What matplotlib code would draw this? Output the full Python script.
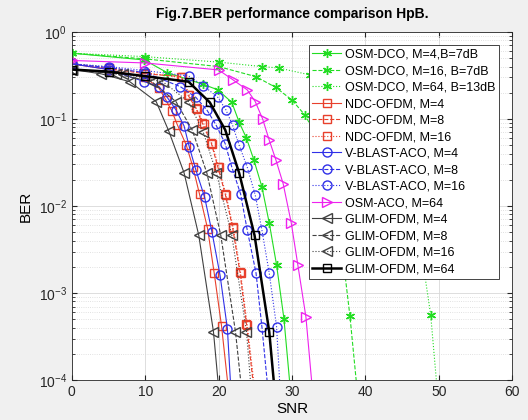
import matplotlib.pyplot as plt

plt.rcParams['font.family'] = ['Liberation Sans', 'DejaVu Sans']

# SNR (dB) and BER points, one pair per curve
snr_dco4 = [0, 9.9, 13.0, 17.9, 19.9, 21.8, 22.8, 23.8, 24.8, 25.9, 26.9, 27.9, 28.9, 29.9]
ber_dco4 = [0.57, 0.476, 0.34, 0.25, 0.216, 0.155, 0.092, 0.06, 0.034, 0.0166, 6.4e-3, 2.1e-3, 5.1e-4, 6e-5]
snr_dco16 = [0, 10, 20, 25.1, 27.8, 30.0, 31.8, 34.0, 36.0, 37.9, 39.0]
ber_dco16 = [0.57, 0.49, 0.40, 0.306, 0.23, 0.165, 0.11, 0.05, 0.012, 5.4e-4, 6e-5]
snr_dco64 = [0, 10, 20, 25.9, 28.2, 32.5, 36, 40, 44, 46, 48.1, 48.9, 49.9]
ber_dco64 = [0.57, 0.52, 0.45, 0.40, 0.385, 0.32, 0.22, 0.11, 0.04, 0.012, 1.6e-3, 5.6e-4, 6e-5]

snr_ndc4 = [0, 5, 10, 11.9, 12.8, 13.6, 14.4, 15.6, 16.5, 17.4, 18.5, 19.4, 20.4, 21.4]
ber_ndc4 = [0.43, 0.37, 0.30, 0.225, 0.166, 0.125, 0.085, 0.05, 0.028, 0.0137, 5.5e-3, 1.7e-3, 4.2e-4, 7e-5]
snr_ndc8 = [0, 5, 10, 14.9, 15.8, 16.9, 17.8, 19.0, 19.9, 20.9, 21.9, 22.9, 23.8, 24.8]
ber_ndc8 = [0.43, 0.38, 0.33, 0.307, 0.19, 0.133, 0.089, 0.053, 0.028, 0.0137, 5.7e-3, 1.75e-3, 4.4e-4, 8e-5]
snr_ndc16 = [0, 5, 10, 15.0, 16.0, 17.0, 18.0, 19.1, 20.0, 21.0, 22.0, 23.0, 23.9, 24.9]
ber_ndc16 = [0.43, 0.39, 0.34, 0.30, 0.19, 0.13, 0.088, 0.052, 0.028, 0.0135, 5.6e-3, 1.7e-3, 4.3e-4, 8e-5]

snr_vb4 = [0, 5, 9.9, 11.9, 13.0, 14.2, 15.3, 16.0, 16.9, 18.1, 19.1, 20.2, 21.2, 22.2]
ber_vb4 = [0.43, 0.37, 0.268, 0.235, 0.177, 0.127, 0.083, 0.048, 0.026, 0.0126, 5e-3, 1.6e-3, 3.9e-4, 1.3e-5]
snr_vb8 = [0, 5, 10, 14.8, 16.9, 18.4, 19.6, 20.9, 21.8, 23.0, 23.9, 25.1, 25.9, 26.9]
ber_vb8 = [0.43, 0.39, 0.34, 0.235, 0.177, 0.127, 0.087, 0.052, 0.028, 0.0137, 5.3e-3, 1.7e-3, 4.1e-4, 5.5e-5]
snr_vb16 = [0, 5, 9.9, 15.9, 17.9, 19.9, 21.0, 21.9, 22.8, 23.9, 25.0, 25.9, 26.9, 27.9, 28.9]
ber_vb16 = [0.43, 0.40, 0.36, 0.312, 0.242, 0.177, 0.127, 0.085, 0.05, 0.028, 0.0133, 5.3e-3, 1.7e-3, 4.1e-4, 1.3e-5]

snr_osm64 = [0, 10, 20, 22.0, 23.9, 25.0, 26.0, 26.9, 27.8, 28.8, 29.9, 30.8, 31.9, 32.9]
ber_osm64 = [0.47, 0.44, 0.366, 0.28, 0.216, 0.158, 0.10, 0.057, 0.034, 0.018, 6.4e-3, 2.1e-3, 5.3e-4, 6e-5]

snr_glim4 = [0, 4, 7.9, 11.5, 13.2, 15.3, 17.3, 19.3, 20.8]
ber_glim4 = [0.37, 0.33, 0.268, 0.158, 0.073, 0.024, 4.6e-3, 3.6e-4, 1.5e-5]
snr_glim8 = [0, 6, 10.9, 14.2, 16.4, 18.4, 20.3, 22.3, 23.8]
ber_glim8 = [0.37, 0.33, 0.268, 0.158, 0.075, 0.024, 4.6e-3, 3.6e-4, 2.3e-5]
snr_glim16 = [0, 7, 12.4, 15.9, 17.9, 19.7, 21.8, 23.8, 25.0]
ber_glim16 = [0.37, 0.33, 0.268, 0.158, 0.071, 0.024, 4.6e-3, 3.6e-4, 2e-5]
snr_glim64 = [0, 5, 10, 15.9, 18.8, 20.9, 22.8, 24.9, 26.9, 28.4]
ber_glim64 = [0.37, 0.35, 0.31, 0.268, 0.155, 0.075, 0.024, 4.6e-3, 3.6e-4, 1.5e-5]

green = '#22dd22'
red = '#e8402c'
blue = '#3030e8'
magenta = '#ee22ee'
gray = '#404040'
star = (6, 2, 0)  # matlab style asterisk

fig = plt.figure(figsize=(5.28, 4.2), dpi=100, facecolor='#f0f0f0')
ax = fig.add_axes([0.136, 0.095, 0.834, 0.829])

ms = 5.5
lw = 0.8
ax.semilogy(snr_dco4, ber_dco4, '-', marker=star, color=green, lw=lw, ms=ms + 1, label='OSM-DCO, M=4,B=7dB')
ax.semilogy(snr_dco16, ber_dco16, '--', marker=star, color=green, lw=lw, ms=ms + 1, label='OSM-DCO, M=16, B=7dB')
ax.semilogy(snr_dco64, ber_dco64, ':', marker=star, color=green, lw=lw, ms=ms + 1, label='OSM-DCO, M=64, B=13dB')
ax.semilogy(snr_ndc4, ber_ndc4, '-s', color=red, mfc='none', lw=lw, ms=ms, label='NDC-OFDM, M=4')
ax.semilogy(snr_ndc8, ber_ndc8, '--s', color=red, mfc='none', lw=lw, ms=ms, label='NDC-OFDM, M=8')
ax.semilogy(snr_ndc16, ber_ndc16, ':s', color=red, mfc='none', lw=lw, ms=ms, label='NDC-OFDM, M=16')
ax.semilogy(snr_vb4, ber_vb4, '-o', color=blue, mfc='none', lw=lw, ms=ms + 1, label='V-BLAST-ACO, M=4')
ax.semilogy(snr_vb8, ber_vb8, '--o', color=blue, mfc='none', lw=lw, ms=ms + 1, label='V-BLAST-ACO, M=8')
ax.semilogy(snr_vb16, ber_vb16, ':o', color=blue, mfc='none', lw=lw, ms=ms + 1, label='V-BLAST-ACO, M=16')
ax.semilogy(snr_osm64, ber_osm64, '->', color=magenta, mfc='none', lw=lw, ms=ms + 1, label='OSM-ACO, M=64')
ax.semilogy(snr_glim4, ber_glim4, '-<', color=gray, mfc='none', lw=lw, ms=ms + 1, label='GLIM-OFDM, M=4')
ax.semilogy(snr_glim8, ber_glim8, '--<', color=gray, mfc='none', lw=lw, ms=ms + 1, label='GLIM-OFDM, M=8')
ax.semilogy(snr_glim16, ber_glim16, ':<', color=gray, mfc='none', lw=lw, ms=ms + 1, label='GLIM-OFDM, M=16')
ax.semilogy(snr_glim64, ber_glim64, '-s', color='k', mfc='none', lw=1.8, ms=ms, label='GLIM-OFDM, M=64')

ax.set_xlim(0, 60)
ax.set_ylim(1e-4, 1)
ax.set_xticks(range(0, 61, 10))
ax.grid(True, which='major', color='#d8d8d8', lw=0.6)
ax.grid(True, which='minor', axis='y', color='#d8d8d8', lw=0.6, ls=':')
ax.tick_params(which='both', direction='in', top=True, right=True, labelsize=10, colors='#262626')
for s in ax.spines.values():
    s.set_color('#262626')
    s.set_linewidth(0.6)

ax.set_xlabel('SNR', fontsize=11, labelpad=2)
ax.set_ylabel('BER', fontsize=11, labelpad=4)
ax.set_title('Fig.7.BER performance comparison HpB.', fontsize=10, fontweight='bold', pad=10)

leg = ax.legend(loc='upper right', bbox_to_anchor=(499 / 528, 1 - 45 / 420),
                bbox_transform=fig.transFigure, fontsize=9, numpoints=1,
                handlelength=2.3, handletextpad=0.3, labelspacing=0.36,
                borderpad=0.3, borderaxespad=0, fancybox=False, framealpha=1)
leg.get_frame().set_edgecolor('#262626')
leg.get_frame().set_linewidth(0.6)

fig.savefig('out.png', dpi=100, facecolor=fig.get_facecolor())
